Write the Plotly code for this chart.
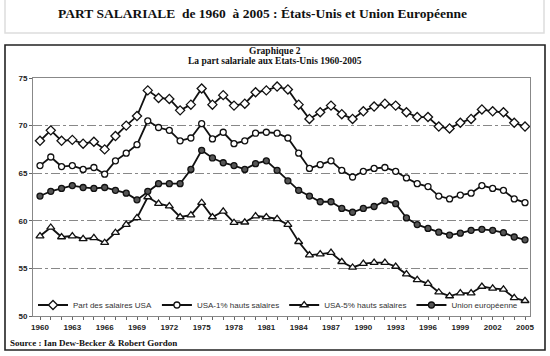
import plotly.graph_objects as go

years = list(range(1960, 2006))

part_salaires_usa = [68.4, 69.5, 68.4, 68.5, 68.1, 68.3, 67.5, 68.9, 70.0, 71.0,
                     73.7, 72.9, 72.8, 71.6, 72.2, 73.9, 72.2, 73.2, 72.1, 72.3,
                     73.5, 73.7, 74.1, 73.8, 72.2, 70.7, 71.4, 72.1, 71.2, 70.7,
                     71.5, 72.0, 72.3, 72.1, 71.4, 70.9, 70.9, 69.9, 69.7, 70.3,
                     70.7, 71.7, 71.5, 71.4, 70.3, 69.9]

usa_1pct = [65.8, 66.7, 65.7, 65.8, 65.4, 65.6, 64.9, 66.3, 67.1, 68.0,
            70.5, 69.8, 69.5, 68.4, 68.7, 70.2, 68.6, 69.3, 68.1, 68.4,
            69.2, 69.3, 69.2, 68.7, 67.1, 65.5, 65.9, 66.3, 65.3, 64.6,
            65.2, 65.5, 65.6, 65.2, 64.5, 63.9, 63.6, 62.6, 62.3, 62.7,
            62.9, 63.7, 63.4, 63.2, 62.3, 61.9]

usa_5pct = [58.4, 59.3, 58.3, 58.4, 58.1, 58.2, 57.7, 58.75, 59.6, 60.3,
            62.5, 61.8, 61.55, 60.4, 60.6, 61.9, 60.4, 61.0, 59.8, 59.85,
            60.5, 60.4, 60.2, 59.6, 57.8, 56.4, 56.5, 56.65, 55.7, 55.1,
            55.5, 55.6, 55.6, 55.2, 54.4, 53.8, 53.4, 52.5, 52.1, 52.4,
            52.4, 53.1, 52.9, 52.8, 51.9, 51.6]

union_europeenne = [62.6, 63.1, 63.4, 63.7, 63.5, 63.4, 63.5, 63.2, 62.9, 62.2,
                    63.1, 63.9, 63.9, 63.9, 65.4, 67.4, 66.6, 66.1, 65.8, 65.4,
                    66.0, 66.3, 65.3, 64.2, 63.2, 62.6, 62.0, 62.0, 61.3, 60.9,
                    61.3, 61.5, 62.1, 61.8, 60.3, 59.6, 59.2, 58.8, 58.5, 58.7,
                    59.0, 59.1, 59.0, 58.75, 58.3, 58.0]

series_names = ["Part des salaires USA", "USA-1% hauts salaires",
                "USA-5% hauts salaires", "Union européenne"]

x_tick_labels = [str(y) for y in range(1960, 2006, 3)]
y_tick_values = [50, 55, 60, 65, 70, 75]

# layout geometry in pixels
W, H = 550, 356
L, R, T, B = 33, 20, 78, 40
PW, PH = W - L - R, H - T - B


def px(xp):
    return (xp - L) / PW


def py(yp):
    return (H - B - yp) / PH


fig = go.Figure()

styles = [
    dict(symbol="diamond", size=7, color="white"),
    dict(symbol="circle", size=6, color="white"),
    dict(symbol="triangle-up", size=7, color="white"),
    dict(symbol="circle", size=6, color="#555555"),
]
data = [part_salaires_usa, usa_1pct, usa_5pct, union_europeenne]

for name, vals, st in zip(series_names, data, styles):
    fig.add_trace(go.Scatter(
        x=years, y=vals, name=name, mode="lines+markers",
        line=dict(color="#111111", width=1.8),
        marker=dict(symbol=st["symbol"], size=st["size"], color=st["color"],
                    line=dict(color="#111111", width=1.3)),
    ))

fig.update_layout(
    width=W, height=H,
    margin=dict(l=L, r=R, t=T, b=B),
    paper_bgcolor="white", plot_bgcolor="white",
    showlegend=True,
    legend=dict(orientation="h", x=0.0, xanchor="left", y=py(305), yanchor="middle",
                font=dict(family="Arial, Liberation Sans", size=8, color="#333333"),
                bgcolor="rgba(0,0,0,0)", itemwidth=30, tracegroupgap=0),
    xaxis=dict(range=[1960 - 7 / 10.78, 2005 + 5 / 10.78],
               tickmode="array", tickvals=list(range(1960, 2006, 3)), ticktext=x_tick_labels,
               ticks="outside", ticklen=3, tickcolor="#666666", tickwidth=1,
               minor=dict(dtick=1, tick0=1960, ticks="outside", ticklen=3,
                          tickcolor="#666666", showgrid=False),
               showgrid=False, zeroline=False,
               showline=True, linecolor="#888888", linewidth=1, mirror=True,
               tickfont=dict(family="Arial, Liberation Sans", size=8, color="#222222",
                             weight="bold")),
    yaxis=dict(range=[50, 75], tickvals=y_tick_values,
               ticks="outside", ticklen=3, tickcolor="#666666",
               showgrid=True, gridcolor="#888888", gridwidth=1, griddash="dashdot",
               zeroline=False,
               showline=True, linecolor="#888888", linewidth=1, mirror=True,
               tickfont=dict(family="Arial, Liberation Sans", size=8, color="#222222",
                             weight="bold")),
)

serif = "Liberation Serif, Times New Roman, serif"
annotations = [
    dict(text="<b>PART SALARIALE  de 1960  à 2005 : États-Unis et Union Européenne</b>",
         x=px(262), y=py(13), font=dict(family=serif, size=13.5, color="#111111")),
    dict(text="<b>Graphique 2</b>", x=px(275), y=py(51),
         font=dict(family=serif, size=9.5, color="#111111")),
    dict(text="<b>La part salariale aux Etats-Unis 1960-2005</b>", x=px(275), y=py(61),
         font=dict(family=serif, size=9.5, color="#111111")),
    dict(text="<b>Source : Ian Dew-Becker &amp; Robert Gordon</b>", x=px(8), y=py(343),
         xanchor="left", font=dict(family=serif, size=9, color="#111111")),
]
for a in annotations:
    a.setdefault("xanchor", "center")
    fig.add_annotation(xref="paper", yref="paper", yanchor="middle",
                       showarrow=False, **a)

# outer chart frame
fig.add_shape(type="rect", xref="paper", yref="paper",
              x0=px(5), x1=px(545), y0=py(350), y1=py(45),
              line=dict(color="#222222", width=1.6), layer="above")
# faint title box
fig.add_shape(type="path", xref="paper", yref="paper",
              path=f"M {px(5)},{py(0)} L {px(5)},{py(33)} L {px(544)},{py(33)} L {px(544)},{py(0)}",
              line=dict(color="#dddddd", width=1.5))

fig.write_html("out.html",
               config={"displayModeBar": False},
               post_script="document.body.style.margin='0';document.body.style.padding='0';")
